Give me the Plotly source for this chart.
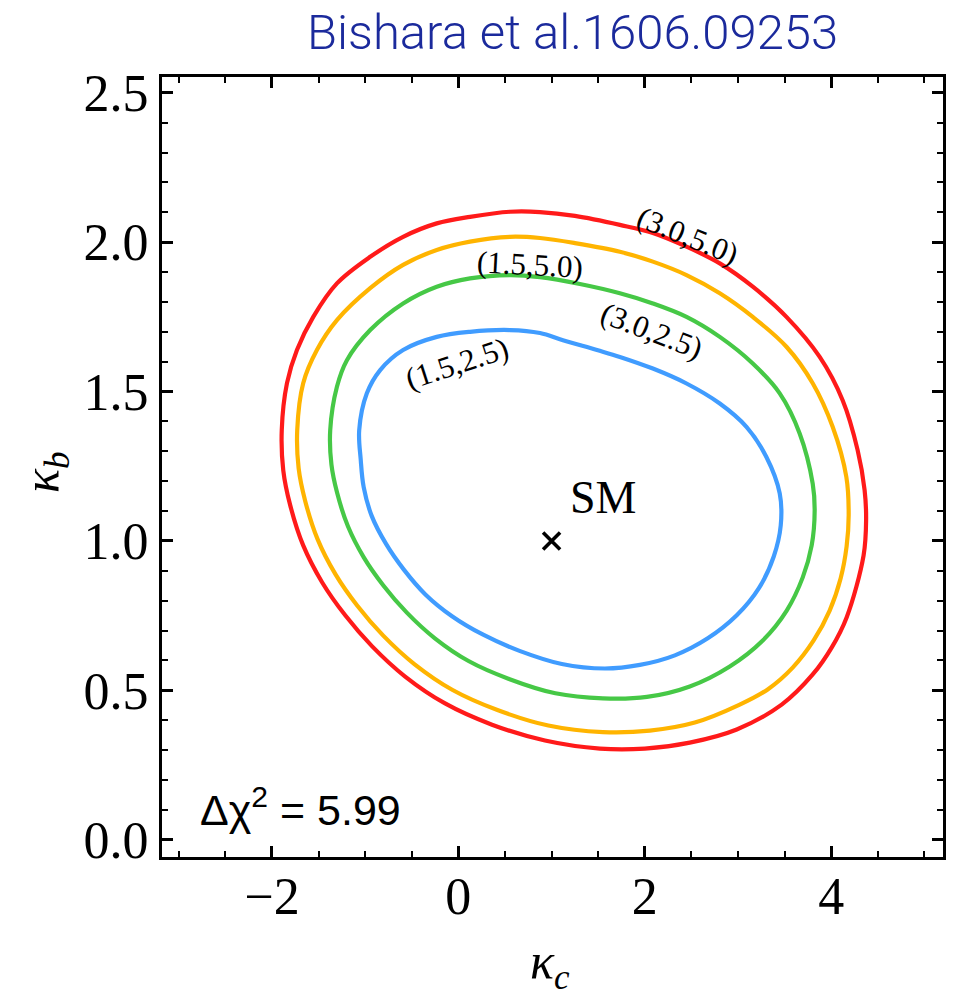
import plotly.graph_objects as go

# Contour outlines in the (kappa_c, kappa_b) plane, each traced clockwise
# starting from the right-hand side
red_x = [4.375, 4.348, 4.166, 4.005, 3.802, 3.469, 2.987, 2.483, 2.001, 1.519, 0.929, 0.361,
         -0.143, -0.571, -0.925, -1.214, -1.461, -1.665, -1.804, -1.879, -1.895, -1.839, -1.732,
         -1.557, -1.303, -0.946, -0.593, -0.232, 0.125, 0.554, 0.876, 1.251, 1.733, 2.087, 2.448,
         2.805, 3.159, 3.520, 3.877, 4.123, 4.284, 4.359]
red_y = [1.069, 0.952, 0.744, 0.643, 0.553, 0.452, 0.369, 0.325, 0.305, 0.305, 0.332, 0.385,
         0.456, 0.546, 0.647, 0.751, 0.861, 0.985, 1.119, 1.237, 1.371, 1.528, 1.639,
         1.750, 1.862, 1.951, 2.018, 2.063, 2.085, 2.102, 2.101, 2.088, 2.058, 2.031, 1.985,
         1.929, 1.851, 1.750, 1.616, 1.471, 1.304, 1.170]

orange_x = [4.188, 4.166, 4.102, 3.984, 3.812, 3.587, 3.319, 3.019, 2.537, 2.055, 1.551, 0.965,
            0.419, -0.062, -0.469, -0.806, -1.084, -1.318, -1.511, -1.643, -1.714, -1.729, -1.665,
            -1.518, -1.303, -0.946, -0.593, -0.232, 0.125, 0.554, 0.876, 1.251, 1.733, 2.087,
            2.448, 2.805, 3.159, 3.520, 3.802, 4.016, 4.163]
orange_y = [1.086, 0.982, 0.875, 0.767, 0.667, 0.576, 0.503, 0.452, 0.392, 0.365, 0.360, 0.382,
            0.434, 0.501, 0.587, 0.683, 0.783, 0.888, 1.006, 1.133, 1.243, 1.371, 1.528,
            1.639, 1.739, 1.846, 1.924, 1.974, 2.002, 2.018, 2.014, 1.997, 1.968, 1.935,
            1.890, 1.829, 1.750, 1.650, 1.528, 1.382, 1.214]

green_x = [3.823, 3.791, 3.695, 3.523, 3.266, 2.912, 2.483, 2.023, 1.551, 1.041, 0.543, 0.109,
           -0.252, -0.553, -0.805, -1.015, -1.185, -1.301, -1.362, -1.375, -1.303, -1.196, -0.946,
           -0.593, -0.232, 0.125, 0.554, 0.876, 1.304, 1.733, 2.087, 2.448, 2.805, 3.159, 3.448,
           3.662, 3.802]
green_y = [1.103, 0.985, 0.878, 0.767, 0.667, 0.580, 0.513, 0.478, 0.473, 0.490, 0.538, 0.598,
           0.674, 0.760, 0.851, 0.945, 1.049, 1.161, 1.256, 1.371, 1.516, 1.605, 1.706,
           1.795, 1.851, 1.879, 1.890, 1.883, 1.860, 1.829, 1.795, 1.750, 1.683, 1.594, 1.494,
           1.360, 1.192]

blue_x = [3.459, 3.384, 3.223, 2.987, 2.676, 2.323, 1.948, 1.572, 1.110, 0.656, 0.266, -0.068,
          -0.354, -0.585, -0.776, -0.929, -1.016, -1.048, -1.064, -0.982, -0.839, -0.593, -0.232,
          0.125, 0.554, 0.876, 1.122, 1.487, 1.733, 2.087, 2.448, 2.805, 3.091, 3.305, 3.448]
blue_y = [1.052, 0.948, 0.841, 0.751, 0.674, 0.617, 0.585, 0.573, 0.588, 0.632, 0.686, 0.748,
          0.821, 0.904, 0.990, 1.083, 1.180, 1.273, 1.371, 1.494, 1.572, 1.639, 1.683,
          1.700, 1.706, 1.696, 1.672, 1.639, 1.616, 1.577, 1.527, 1.460, 1.382, 1.281, 1.159]

contour_names = ["(3.0,5.0)", "(1.5,5.0)", "(3.0,2.5)", "(1.5,2.5)"]
contour_colors = ["#ff1a1a", "#ffb400", "#46c846", "#409cff"]

# Contour label placement (data coordinates) and slant
label_x = [2.462, 0.768, 2.073, -0.017]
label_y = [2.024, 1.927, 1.706, 1.594]
label_angle = [22, 3, 21, -18]

sm_point = (1.0, 1.0)

fig = go.Figure()

curves = [(red_x, red_y), (orange_x, orange_y), (green_x, green_y), (blue_x, blue_y)]
for (cx, cy), name, color in zip(curves, contour_names, contour_colors):
    fig.add_trace(go.Scatter(
        x=cx + cx[:1], y=cy + cy[:1], mode="lines", name=name,
        line=dict(color=color, width=4.2, shape="spline", smoothing=1.0),
        hoverinfo="skip", showlegend=False,
    ))

fig.add_trace(go.Scatter(
    x=[sm_point[0]], y=[sm_point[1]], mode="markers",
    marker=dict(symbol="x-thin", size=17, line=dict(color="black", width=3.6)),
    showlegend=False, hoverinfo="skip",
))

centered = dict(showarrow=False, xanchor="center", yanchor="middle")

for name, lx, ly, ang in zip(contour_names, label_x, label_y, label_angle):
    fig.add_annotation(x=lx, y=ly, text=name, textangle=ang,
                       font=dict(family="Liberation Serif", size=31, color="black"), **centered)

fig.add_annotation(x=1.551, y=1.146, text="SM",
                   font=dict(family="Liberation Serif", size=46, color="black"), **centered)

fig.add_annotation(x=-1.697, y=0.111, text="Δχ<sup>2</sup> = 5.99",
                   font=dict(family="Liberation Sans", size=43, color="black"), **centered)

# Axis titles
fig.add_annotation(xref="paper", yref="paper", x=0.497, y=-0.139,
                   text="<i>κ</i><sub><i>c</i></sub>",
                   font=dict(family="Liberation Serif", size=50, color="black"), **centered)
fig.add_annotation(xref="paper", yref="paper", x=-0.149, y=0.493, textangle=-90,
                   text="<i>κ</i><sub><i>b</i></sub>",
                   font=dict(family="Liberation Serif", size=50, color="black"), **centered)

# Reference line above the frame
fig.add_annotation(xref="paper", yref="paper", x=0.526, y=1.057,
                   text="Bishara et al.1606.09253",
                   font=dict(family="Roboto", size=49, color="#1b2a9c", weight=300), **centered)

axis_common = dict(
    showgrid=False, zeroline=False, showline=True, linecolor="black", linewidth=3,
    mirror="ticks", ticks="inside", ticklen=11, tickwidth=2.6, tickcolor="black",
    tickfont=dict(family="Liberation Serif", size=52, color="black"),
)

fig.update_xaxes(range=[-3.18, 5.2], tickmode="linear", tick0=0, dtick=2,
                 ticklabelstandoff=-8,
                 minor=dict(ticks="inside", tickmode="linear", tick0=0, dtick=0.5,
                            ticklen=6, tickwidth=2.2, tickcolor="black", showgrid=False),
                 **axis_common)
fig.update_yaxes(range=[-0.058, 2.553], tickmode="linear", tick0=0, dtick=0.5,
                 tickformat=".1f",
                 minor=dict(ticks="inside", tickmode="linear", tick0=0, dtick=0.1,
                            ticklen=6, tickwidth=2.2, tickcolor="black", showgrid=False),
                 **axis_common)

fig.update_layout(
    width=959, height=998,
    margin=dict(l=162, r=16, t=77, b=141),
    plot_bgcolor="white", paper_bgcolor="white",
    showlegend=False,
)

fig.write_html("out.html")
